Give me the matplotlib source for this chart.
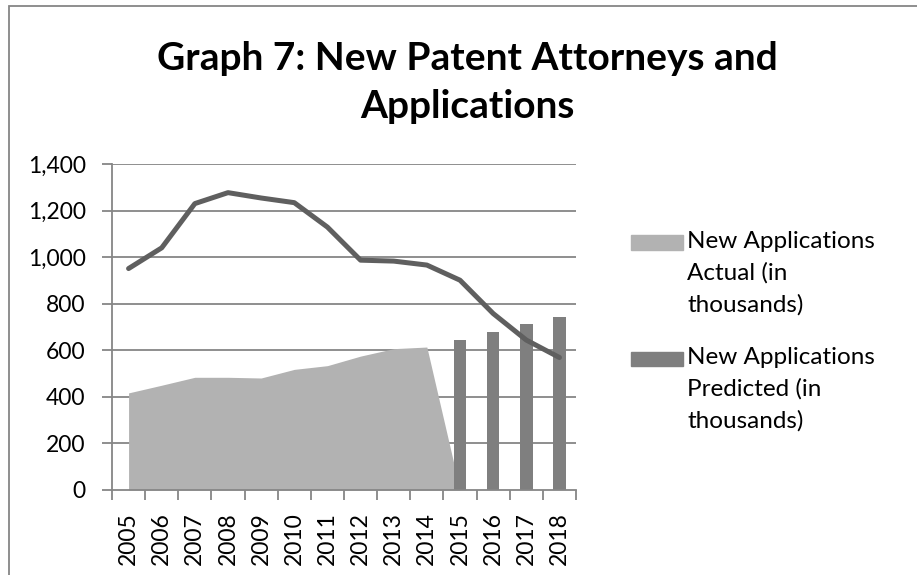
import numpy as np
import matplotlib
matplotlib.use("Agg")
import matplotlib.pyplot as plt
from matplotlib.patches import Rectangle

# data
years = ['2005', '2006', '2007', '2008', '2009', '2010', '2011',
         '2012', '2013', '2014', '2015', '2016', '2017', '2018']
actual = [417, 450, 484, 484, 481, 518, 534, 575, 607, 614, 0]   # 2005-2015
predicted = [645, 677, 711, 745]                                  # 2015-2018
attorneys = [951, 1040, 1230, 1277, 1254, 1234, 1129, 987, 983, 966,
             901, 758, 644, 569]
y_ticks = [0, 200, 400, 600, 800, 1000, 1200, 1400]
title_lines = ['Graph 7: New Patent Attorneys and', 'Applications']
legend_labels = [['New Applications', 'Actual (in', 'thousands)'],
                 ['New Applications', 'Predicted (in', 'thousands)']]

GRID = '#868686'
AREA = '#b2b2b2'
BAR = '#7f7f7f'
LINE = '#5f5f5f'
FONT = 'Lato'

plt.rcParams['font.family'] = [FONT, 'DejaVu Sans']

W, H = 917, 575
fig = plt.figure(figsize=(W / 100, H / 100), dpi=100)

def fx(px):
    return px / W

def fy(py):
    return 1 - py / H

# outer chart border (runs past the image on right/bottom)
fig.add_artist(Rectangle((fx(9), fy(H + 20)), fx(W + 20), fy(6) - fy(H + 20),
                         transform=fig.transFigure, fill=False,
                         edgecolor=GRID, linewidth=1.3))

ax = fig.add_axes([fx(112), fy(490), fx(576) - fx(112), fy(164) - fy(490)])

x = np.arange(len(years))
n_act = len(actual)
ax.fill_between(x[:n_act], actual, 0, color=AREA, linewidth=0, zorder=2)
ax.bar(x[n_act - 1:], predicted, width=0.38, color=BAR, zorder=3)
ax.plot(x, attorneys, color=LINE, linewidth=3.6, solid_capstyle='round',
        solid_joinstyle='round', zorder=4)

ax.set_xlim(-0.5, len(years) - 0.5)
ax.set_ylim(0, 1400)
ax.set_yticks(y_ticks)
ax.set_yticklabels([f'{v:,}' for v in y_ticks], fontsize=16.5)
ax.set_xticks(x)
ax.set_xticklabels(years, rotation=90, fontsize=16.5)
ax.set_xticks(np.arange(-0.5, len(years)), minor=True)
ax.tick_params(axis='x', which='major', length=0, pad=16)
ax.tick_params(axis='x', which='minor', length=7, width=1.3, color=GRID)
ax.tick_params(axis='y', length=7, width=1.3, color=GRID, pad=12)

for v in y_ticks[1:]:
    ax.axhline(v, color=GRID, linewidth=1.3, zorder=1)
for s in ['top', 'right']:
    ax.spines[s].set_visible(False)
for s in ['left', 'bottom']:
    ax.spines[s].set_color(GRID)
    ax.spines[s].set_linewidth(1.3)
    ax.spines[s].set_zorder(5)

# title, one text per line so baselines sit where the source has them
for line, base in zip(title_lines, [70, 118]):
    fig.text(fx(467), fy(base), line, ha='center', va='baseline',
             fontsize=28, fontweight='bold')

# legend, handle aligned with the first text line as in the source
legend_colors = [AREA, BAR]
legend_base = [248, 364]
for lines, col, base in zip(legend_labels, legend_colors, legend_base):
    fig.add_artist(Rectangle((fx(631), fy(base + 2)), fx(52), fy(0) - fy(14.5),
                             transform=fig.transFigure, color=col))
    for i, line in enumerate(lines):
        fig.text(fx(687), fy(base + 32 * i), line, ha='left', va='baseline',
                 fontsize=17.5)

fig.savefig('out.png', dpi=100)
